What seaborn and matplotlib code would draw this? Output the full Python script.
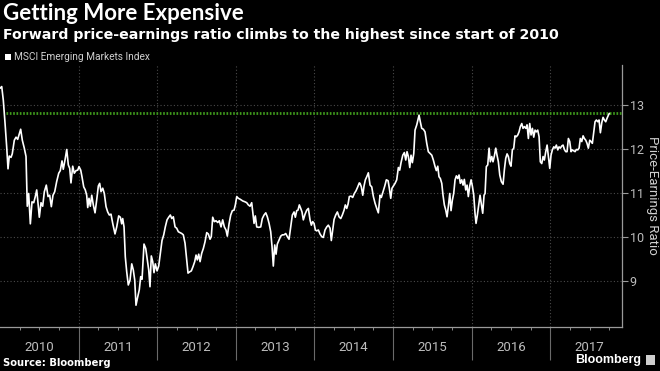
import numpy as np
import pandas as pd
import matplotlib
matplotlib.use('Agg')
import matplotlib.pyplot as plt
import matplotlib.patches as mpatches
import seaborn as sns

# forward P/E of MSCI EM index (x in decimal years)
years = [
    2010.000, 2010.022, 2010.042, 2010.064, 2010.085, 2010.102, 2010.118, 2010.140, 2010.156, 2010.182,
    2010.204, 2010.225, 2010.242, 2010.263, 2010.284, 2010.309, 2010.331, 2010.347, 2010.365, 2010.386,
    2010.407, 2010.429, 2010.449, 2010.467, 2010.480, 2010.500, 2010.522, 2010.543, 2010.564, 2010.589,
    2010.611, 2010.632, 2010.653, 2010.674, 2010.696, 2010.721, 2010.747, 2010.767, 2010.789, 2010.805,
    2010.827, 2010.849, 2010.869, 2010.887, 2010.903, 2010.925, 2010.945, 2010.967, 2010.989, 2011.005,
    2011.027, 2011.043, 2011.065, 2011.085, 2011.103, 2011.116, 2011.132, 2011.149, 2011.167, 2011.187,
    2011.209, 2011.230, 2011.251, 2011.268, 2011.285, 2011.307, 2011.327, 2011.349, 2011.370, 2011.391,
    2011.412, 2011.434, 2011.463, 2011.485, 2011.510, 2011.531, 2011.548, 2011.561, 2011.578, 2011.594,
    2011.612, 2011.632, 2011.654, 2011.676, 2011.696, 2011.714, 2011.730, 2011.752, 2011.772, 2011.790,
    2011.807, 2011.832, 2011.854, 2011.874, 2011.892, 2011.908, 2011.925, 2011.943, 2011.959, 2011.976,
    2011.998, 2012.019, 2012.040, 2012.061, 2012.083, 2012.103, 2012.125, 2012.146, 2012.167, 2012.185,
    2012.205, 2012.227, 2012.248, 2012.269, 2012.290, 2012.312, 2012.332, 2012.354, 2012.375, 2012.392,
    2012.414, 2012.434, 2012.456, 2012.477, 2012.494, 2012.510, 2012.528, 2012.545, 2012.566, 2012.587,
    2012.608, 2012.630, 2012.650, 2012.672, 2012.688, 2012.706, 2012.727, 2012.748, 2012.770, 2012.790,
    2012.812, 2012.833, 2012.854, 2012.875, 2012.892, 2012.914, 2012.935, 2012.956, 2012.977, 2012.994,
    2013.012, 2013.032, 2013.054, 2013.088, 2013.117, 2013.139, 2013.159, 2013.181, 2013.202, 2013.215,
    2013.232, 2013.248, 2013.266, 2013.291, 2013.317, 2013.337, 2013.359, 2013.381, 2013.401, 2013.423,
    2013.444, 2013.461, 2013.477, 2013.495, 2013.512, 2013.528, 2013.550, 2013.571, 2013.592, 2013.613,
    2013.635, 2013.655, 2013.677, 2013.699, 2013.719, 2013.741, 2013.757, 2013.775, 2013.791, 2013.808,
    2013.826, 2013.842, 2013.859, 2013.881, 2013.902, 2013.923, 2013.944, 2013.961, 2013.978, 2013.995,
    2014.012, 2014.029, 2014.050, 2014.071, 2014.093, 2014.113, 2014.135, 2014.157, 2014.177, 2014.199,
    2014.215, 2014.233, 2014.250, 2014.271, 2014.292, 2014.313, 2014.335, 2014.355, 2014.377, 2014.393,
    2014.411, 2014.428, 2014.444, 2014.466, 2014.487, 2014.508, 2014.529, 2014.551, 2014.571, 2014.580,
    2014.597, 2014.615, 2014.631, 2014.648, 2014.666, 2014.686, 2014.708, 2014.729, 2014.750, 2014.771,
    2014.793, 2014.813, 2014.835, 2014.851, 2014.873, 2014.895, 2014.915, 2014.937, 2014.953, 2014.971,
    2014.987, 2015.004, 2015.026, 2015.047, 2015.068, 2015.085, 2015.102, 2015.124, 2015.144, 2015.162,
    2015.178, 2015.195, 2015.213, 2015.229, 2015.246, 2015.264, 2015.280, 2015.302, 2015.318, 2015.331,
    2015.347, 2015.365, 2015.386, 2015.407, 2015.429, 2015.449, 2015.471, 2015.493, 2015.513, 2015.535,
    2015.551, 2015.569, 2015.585, 2015.602, 2015.620, 2015.636, 2015.653, 2015.671, 2015.687, 2015.704,
    2015.722, 2015.738, 2015.755, 2015.772, 2015.789, 2015.806, 2015.823, 2015.840, 2015.856, 2015.874,
    2015.891, 2015.907, 2015.925, 2015.942, 2015.958, 2015.976, 2015.993, 2016.009, 2016.027, 2016.043,
    2016.056, 2016.073, 2016.091, 2016.107, 2016.124, 2016.141, 2016.158, 2016.171, 2016.187, 2016.205,
    2016.222, 2016.238, 2016.256, 2016.272, 2016.289, 2016.307, 2016.323, 2016.340, 2016.358, 2016.378,
    2016.400, 2016.416, 2016.434, 2016.451, 2016.467, 2016.485, 2016.501, 2016.518, 2016.536, 2016.552,
    2016.569, 2016.587, 2016.603, 2016.620, 2016.638, 2016.654, 2016.671, 2016.689, 2016.705, 2016.722,
    2016.739, 2016.756, 2016.773, 2016.790, 2016.807, 2016.823, 2016.841, 2016.858, 2016.874, 2016.892,
    2016.909, 2016.925, 2016.943, 2016.960, 2016.976, 2016.994, 2017.010, 2017.027, 2017.045, 2017.061,
    2017.078, 2017.096, 2017.112, 2017.129, 2017.147, 2017.163, 2017.180, 2017.197, 2017.214, 2017.231,
    2017.248, 2017.265, 2017.281, 2017.299, 2017.316, 2017.332, 2017.350, 2017.367, 2017.383, 2017.401,
    2017.418, 2017.434, 2017.452, 2017.468, 2017.485, 2017.503, 2017.519, 2017.536, 2017.554, 2017.570,
    2017.587, 2017.605, 2017.621, 2017.638, 2017.656, 2017.672, 2017.689, 2017.706, 2017.723, 2017.740,
    2017.752,
]
pe = [
    13.38, 13.42, 13.11, 12.59, 12.05, 11.55, 11.84, 11.81, 11.89, 12.20,
    12.27, 12.22, 12.32, 12.45, 12.20, 12.02, 11.83, 10.70, 10.99, 10.30,
    10.80, 10.78, 10.92, 11.07, 10.84, 10.45, 10.78, 10.70, 11.03, 11.18,
    10.92, 10.95, 10.69, 10.95, 11.03, 11.26, 11.45, 11.51, 11.73, 11.54,
    11.75, 11.99, 11.64, 11.56, 11.23, 11.61, 11.45, 11.51, 11.52, 11.60,
    11.52, 11.37, 11.14, 11.07, 10.95, 10.67, 10.88, 10.70, 10.95, 10.73,
    10.55, 10.84, 11.16, 11.22, 11.03, 11.11, 10.99, 10.69, 10.57, 10.50,
    10.52, 10.31, 10.07, 10.23, 10.48, 10.45, 10.30, 10.42, 10.23, 9.55,
    9.21, 8.91, 9.02, 9.39, 9.25, 9.02, 8.45, 8.64, 8.80, 9.10,
    9.04, 9.84, 9.74, 9.48, 9.25, 8.87, 9.57, 9.44, 9.19, 9.39,
    9.23, 9.34, 9.63, 9.92, 10.05, 10.23, 10.39, 10.45, 10.50, 10.42,
    10.46, 10.23, 10.20, 10.12, 10.10, 10.08, 10.05, 9.86, 9.48, 9.18,
    9.21, 9.23, 9.33, 9.44, 9.59, 9.48, 9.61, 9.44, 9.63, 9.74,
    9.89, 10.10, 10.07, 9.95, 10.01, 10.45, 10.35, 10.37, 10.33, 10.37,
    10.23, 10.39, 10.23, 10.16, 10.02, 10.30, 10.50, 10.60, 10.61, 10.73,
    10.92, 10.88, 10.86, 10.82, 10.80, 10.78, 10.73, 10.70, 10.78, 10.57,
    10.31, 10.48, 10.23, 10.22, 10.23, 10.42, 10.50, 10.55, 10.46, 10.31,
    10.12, 9.78, 9.34, 9.82, 9.61, 9.84, 9.93, 10.02, 10.05, 10.05,
    10.08, 10.01, 9.95, 10.23, 10.50, 10.57, 10.45, 10.60, 10.61, 10.73,
    10.65, 10.57, 10.39, 10.52, 10.61, 10.65, 10.39, 10.27, 10.35, 10.31,
    10.16, 10.14, 10.16, 10.07, 10.01, 9.99, 10.16, 10.23, 10.27, 10.20,
    9.92, 10.16, 10.40, 10.50, 10.57, 10.46, 10.42, 10.50, 10.61, 10.73,
    10.65, 10.75, 10.92, 10.93, 10.90, 10.99, 11.05, 11.14, 11.23, 11.22,
    11.14, 10.95, 11.16, 11.30, 11.37, 11.46, 11.18, 11.14, 10.92, 10.77,
    10.65, 10.55, 10.95, 10.90, 11.03, 11.16, 11.30, 11.28, 11.11, 10.88,
    11.11, 11.16, 11.22, 11.30, 11.58, 11.52, 11.69, 11.86, 11.92, 11.75,
    11.94, 11.83, 11.58, 11.86, 11.69, 11.90, 12.43, 12.55, 12.67, 12.77,
    12.62, 12.47, 12.45, 12.39, 12.13, 11.94, 11.90, 11.86, 11.75, 11.60,
    11.51, 11.61, 11.37, 11.33, 11.22, 10.95, 10.73, 10.61, 10.46, 10.70,
    10.99, 10.60, 10.84, 10.99, 11.30, 11.39, 11.33, 11.41, 11.22, 11.30,
    11.18, 11.31, 11.07, 11.18, 10.92, 11.16, 11.30, 11.16, 10.95, 10.54,
    10.31, 10.50, 10.73, 10.95, 10.75, 10.54, 10.95, 10.99, 11.60, 11.64,
    12.02, 11.71, 11.83, 11.71, 11.84, 12.02, 11.86, 11.71, 11.41, 11.26,
    11.20, 11.52, 11.79, 11.89, 11.83, 11.67, 11.61, 11.98, 12.02, 12.30,
    12.28, 12.32, 12.39, 12.51, 12.58, 12.47, 12.51, 12.47, 12.55, 12.24,
    12.58, 12.32, 12.47, 12.27, 12.43, 12.39, 12.43, 12.28, 11.71, 11.67,
    11.83, 11.75, 11.94, 12.09, 11.83, 11.56, 11.86, 11.98, 12.05, 12.02,
    12.09, 11.98, 12.05, 12.02, 12.07, 12.09, 11.99, 11.94, 11.94, 12.24,
    12.17, 11.94, 11.98, 11.96, 11.94, 11.99, 11.98, 12.02, 12.24, 12.17,
    12.30, 12.24, 12.20, 12.13, 12.02, 12.20, 12.17, 12.13, 12.39, 12.62,
    12.66, 12.62, 12.66, 12.37, 12.60, 12.72, 12.66, 12.62, 12.70, 12.77,
    12.81,
]
threshold = 12.82  # dotted green line = latest level
year_labels = ['2010', '2011', '2012', '2013', '2014', '2015', '2016', '2017']
yticks = [9, 10, 11, 12, 13]

df = pd.DataFrame({'year': years, 'pe': pe})

sns.set_style('dark', {'axes.facecolor': 'black', 'figure.facecolor': 'black'})
axis_font = 'Roboto'
grey = '#bdbdbd'

fig = plt.figure(figsize=(6.6, 3.71), dpi=100, facecolor='black')
ax = fig.add_axes([0.0, 1 - 327 / 371, 622 / 660, 262 / 371])
ax.set_facecolor('black')

# grid first so the line sits above
for yv in yticks:
    ax.axhline(yv, color='#4a4a4a', lw=0.8, ls=(0, (1, 2)), zorder=1)
for i in range(1, len(year_labels)):
    ax.axvline(2010 + i, color='#4a4a4a', lw=0.8, ls=(0, (1, 2)), zorder=1)

ax.hlines(threshold, 2010.076, 2017.913, color='#3f9a1c', lw=2.0, ls=(0, (0.6, 0.6)), zorder=2)

sns.lineplot(data=df, x='year', y='pe', ax=ax, color='white', linewidth=1.2, zorder=3,
             estimator=None, sort=False)

ax.set_xlim(2010.0, 2017.913)
ax.set_ylim(7.955, 13.91)

# axes styling
for s in ['top', 'left']:
    ax.spines[s].set_visible(False)
for s in ['right', 'bottom']:
    ax.spines[s].set_visible(True)
    ax.spines[s].set_color('#9a9a9a')
    ax.spines[s].set_linewidth(0.9)

ax.yaxis.tick_right()
ax.set_yticks(yticks)
ax.set_yticklabels([str(v) for v in yticks], family=axis_font, fontsize=9, color=grey)
ax.tick_params(axis='y', which='major', length=4, width=0.8, color='#9a9a9a', pad=1.5, right=True, left=False)
ax.set_ylabel('')
fig.text(652 / 660, 1 - 195 / 371, 'Price-Earnings Ratio', rotation=270, family=axis_font, fontsize=9.5,
         color='#d0d0d0', va='center', ha='center')

ax.set_xticks([2010 + i for i in range(1, len(year_labels))])
ax.set_xticklabels([])
ax.set_xticks([2010 + q / 4 for q in range(1, 32) if q % 4], minor=True)
ax.tick_params(axis='x', which='major', length=24, width=0.8, color='#6a6a6a', bottom=True)
ax.tick_params(axis='x', which='minor', length=2.5, width=0.7, color='#8a8a8a', bottom=True)
ax.set_xlabel('')
for i, lab in enumerate(year_labels):
    ax.text(2010 + i + 0.5, -0.08, lab, transform=ax.get_xaxis_transform(), ha='center', va='center',
            family=axis_font, fontsize=9.5, color=grey)

# headline texts
fig.text(0.004, 1 - 14 / 371, 'Getting More Expensive', family='Lato', weight='bold', fontsize=16,
         color='white', va='center', ha='left')
fig.text(0.004, 1 - 35 / 371, 'Forward price-earnings ratio climbs to the highest since start of 2010',
         family='DejaVu Sans', weight='bold', fontsize=10.2, color='white', va='center', ha='left')

# legend
fig.patches.append(mpatches.Rectangle((5 / 660, 1 - 60 / 371), 6 / 660, 6 / 371, transform=fig.transFigure,
                                      facecolor='white', edgecolor='none'))
fig.text(14 / 660, 1 - 56.5 / 371, 'MSCI Emerging Markets Index', family=axis_font, fontsize=7.3,
         color='#d0d0d0', va='center', ha='left')

# footer
fig.text(3 / 660, 1 - 363 / 371, 'Source: Bloomberg', family='DejaVu Sans', weight='bold', fontsize=7.2,
         color='white', va='center', ha='left')
fig.text(641 / 660, 1 - 360 / 371, 'Bloomberg', family='Liberation Sans', weight='bold', fontsize=9,
         color='white', va='center', ha='right')
fig.patches.append(mpatches.Rectangle((646 / 660, 1 - 365 / 371), 9 / 660, 10 / 371, transform=fig.transFigure,
                                      facecolor='#cfcfcf', edgecolor='none'))

fig.savefig('out.png', dpi=100, facecolor='black')
